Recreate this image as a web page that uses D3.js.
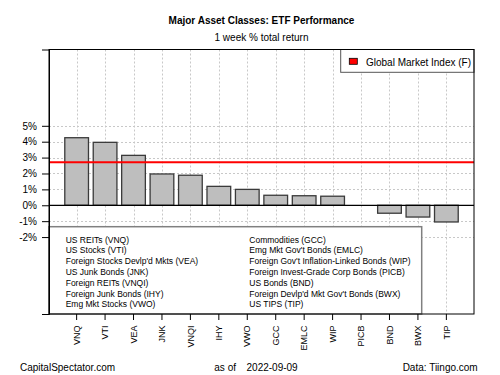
<!DOCTYPE html>
<html><head><meta charset="utf-8">
<script src="https://cdn.jsdelivr.net/npm/d3@7"></script>
<style>
html,body{margin:0;padding:0;background:#fff;}
text{font-family:"Liberation Sans",Arial,sans-serif;}
</style></head>
<body>
<svg id="chart" width="500" height="375"></svg>
<script>
const tickers = ["VNQ","VTI","VEA","JNK","VNQI","IHY","VWO","GCC","EMLC","WIP","PICB","BND","BWX","TIP"];
const returns = [4.25,3.96,3.14,1.97,1.89,1.19,1.0,0.63,0.60,0.57,0.0,-0.50,-0.74,-1.05];
const names = ["US REITs (VNQ)","US Stocks (VTI)","Foreign Stocks Devlp'd Mkts (VEA)","US Junk Bonds (JNK)","Foreign REITs (VNQI)","Foreign Junk Bonds (IHY)","Emg Mkt Stocks (VWO)",
"Commodities (GCC)","Emg Mkt Gov't Bonds (EMLC)","Foreign Gov't Inflation-Linked Bonds (WIP)","Foreign Invest-Grade Corp Bonds (PICB)","US Bonds (BND)","Foreign Devlp'd Mkt Gov't Bonds (BWX)","US TIPS (TIP)"];
const globalIndex = 2.70;
const yTicks = [-2,-1,0,1,2,3,4,5];
const yDomain = [-6.84, 9.8];

const svg = d3.select("#chart");
const L = 49, R = 474, T = 49.5, B = 314;

const x = d3.scaleBand().domain(tickers).range([L, R]).paddingInner(1/6).paddingOuter(0.555);
const y = d3.scaleLinear().domain(yDomain).range([B, T]);

// titles
svg.append("text").attr("x", (L+R)/2).attr("y", 23.5).attr("text-anchor","middle")
  .attr("font-size","10px").attr("font-weight","bold").attr("fill","#000").text("Major Asset Classes: ETF Performance");
svg.append("text").attr("x", (L+R)/2).attr("y", 40.5).attr("text-anchor","middle")
  .attr("font-size","10px").attr("fill","#000").text("1 week % total return");

// grid
const grid = svg.append("g").attr("stroke","#c8c8c8").attr("stroke-dasharray","2,2").attr("stroke-width",1);
tickers.forEach(t => {
  const cx = Math.round(x(t) + x.bandwidth()/2) + 0.5;
  grid.append("line").attr("x1",cx).attr("x2",cx).attr("y1",T).attr("y2",B);
});
yTicks.filter(v => v !== 0).forEach(v => {
  const yy = Math.round(y(v)) + 0.5;
  grid.append("line").attr("x1",L).attr("x2",R).attr("y1",yy).attr("y2",yy);
});

// bars
svg.append("g").selectAll("rect").data(returns).join("rect")
  .attr("x", (d,i) => x(tickers[i]))
  .attr("width", x.bandwidth())
  .attr("y", d => Math.min(y(d), y(0)))
  .attr("height", d => Math.abs(y(d) - y(0)))
  .attr("fill","#bebebe").attr("stroke","#3a3a3a").attr("stroke-width",1.3);

// zero line
svg.append("line").attr("x1",L).attr("x2",R).attr("y1",y(0)).attr("y2",y(0)).attr("stroke","#000").attr("stroke-width",1.2);
// global index line
svg.append("line").attr("x1",L).attr("x2",R).attr("y1",y(globalIndex)).attr("y2",y(globalIndex)).attr("stroke","#ff0000").attr("stroke-width",2);

// bottom legend
const lg = svg.append("g");
lg.append("rect").attr("x",L).attr("y",226.7).attr("width",421.7-L).attr("height",B-226.7)
  .attr("fill","#fff").attr("stroke","#808080").attr("stroke-width",1.5);
names.forEach((n,i) => {
  const col = Math.floor(i/7), row = i%7;
  lg.append("text").attr("x", col ? 249.3 : 65.7).attr("y", 242.7 + row*10.77)
    .attr("font-size","8.5px").attr("fill","#000").text(n);
});

// top legend
const tg = svg.append("g");
tg.append("rect").attr("x",340.7).attr("y",T).attr("width",R-340.7).attr("height",72.3-T)
  .attr("fill","#fff").attr("stroke","#555").attr("stroke-width",1);
tg.append("rect").attr("x",349.3).attr("y",58.3).attr("width",8).attr("height",6)
  .attr("fill","#ff0000").attr("stroke","#000").attr("stroke-width",0.8);
tg.append("text").attr("x",366).attr("y",66).attr("font-size","10px").attr("fill","#000").text("Global Market Index (F)");

// plot border
svg.append("rect").attr("x",L).attr("y",T).attr("width",R-L).attr("height",B-T)
  .attr("fill","none").attr("stroke","#000").attr("stroke-width",1);

// y axis
const yAxis = d3.axisLeft(y).tickValues(yTicks).tickSize(7).tickPadding(5).tickFormat(d => d + "%");
const ya = svg.append("g").attr("transform",`translate(${L},0)`).call(yAxis);
ya.select(".domain").attr("stroke","#000");
ya.selectAll("text").attr("font-size","10px").attr("font-family","Liberation Sans, Arial, sans-serif").attr("fill","#000");

// x axis
const xAxis = d3.axisBottom(x).tickSize(6).tickSizeOuter(0);
const xa = svg.append("g").attr("transform",`translate(0,${B})`).call(xAxis);
xa.select(".domain").remove();
xa.selectAll("text").attr("font-size","9px").attr("font-family","Liberation Sans, Arial, sans-serif").attr("fill","#000")
  .attr("transform","translate(0,11.5) rotate(-90)").attr("text-anchor","end").attr("x",0).attr("y",0).attr("dy","0.35em");

// footer
svg.append("text").attr("x",20).attr("y",370.5).attr("font-size","10px").attr("fill","#000").text("CapitalSpectator.com");
svg.append("text").attr("x",214.3).attr("y",370.5).attr("font-size","10px").attr("fill","#000").text("as of");
svg.append("text").attr("x",297.7).attr("y",370.5).attr("text-anchor","end").attr("font-size","10px").attr("fill","#000").text("2022-09-09");
svg.append("text").attr("x",477.7).attr("y",370.5).attr("text-anchor","end").attr("font-size","10px").attr("fill","#000").text("Data: Tiingo.com");
</script>
</body></html>
